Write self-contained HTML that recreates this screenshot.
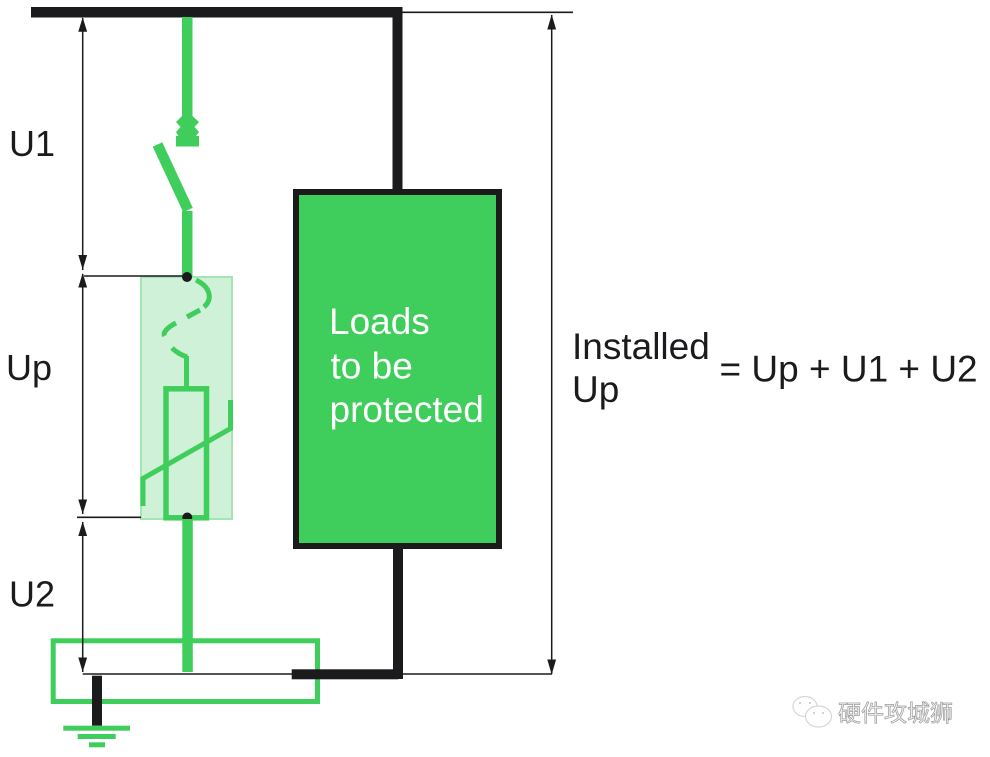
<!DOCTYPE html>
<html><head><meta charset="utf-8">
<style>
html,body{margin:0;padding:0;background:#fff;}
svg{display:block;}
text{font-family:"Liberation Sans",Arial,sans-serif;}
</style></head>
<body>
<svg width="990" height="757" viewBox="0 0 990 757" xmlns="http://www.w3.org/2000/svg">
<rect width="990" height="757" fill="#fff"/>

<!-- top black bus -->
<rect x="31" y="7" width="371" height="10.5" fill="#1b1a1d"/>
<!-- right vertical black line to box -->
<rect x="392.5" y="7" width="10" height="186" fill="#1b1a1d"/>
<!-- thin top reference line -->
<line x1="402" y1="12.3" x2="573" y2="12.3" stroke="#1b1a1d" stroke-width="1.6"/>

<!-- load box -->
<rect x="296" y="192" width="203" height="354" fill="#3fce5b" stroke="#1b1a1d" stroke-width="6"/>
<!-- bottom vertical black -->
<rect x="393" y="546" width="10" height="133" fill="#1b1a1d"/>

<!-- SPD translucent box -->
<rect x="141" y="277" width="91" height="242" fill="#cff1d7" stroke="#a4e5b1" stroke-width="2"/>

<!-- top green wire -->
<rect x="182" y="17" width="10.5" height="99" fill="#3fce5b"/>
<polygon points="182,114 192.5,114 192.5,116 199,122 194.5,127 199,132 196,136 178.5,136 176,132 180.5,127 176,122 182,116" fill="#3fce5b"/>
<rect x="176" y="136" width="23" height="10.5" fill="#3fce5b"/>
<!-- switch blade -->
<line x1="157.5" y1="144.5" x2="188" y2="210" stroke="#3fce5b" stroke-width="10.5"/>
<!-- lower wire to SPD -->
<rect x="182" y="211" width="10.5" height="66" fill="#3fce5b"/>

<!-- spark gap dashed S-curve -->
<path d="M196,280 C212,288 212,300 204,307" fill="none" stroke="#3fce5b" stroke-width="5"/>
<path d="M200,310 L187,317" fill="none" stroke="#3fce5b" stroke-width="5"/>
<path d="M176,323 C166,328 163,333 164.5,336" fill="none" stroke="#3fce5b" stroke-width="5"/>
<path d="M172,348 C177,353 182,355 187,357" fill="none" stroke="#3fce5b" stroke-width="5"/>
<line x1="186.5" y1="356" x2="186.5" y2="389" stroke="#3fce5b" stroke-width="5"/>

<!-- varistor -->
<rect x="166" y="388.8" width="40.5" height="129" fill="none" stroke="#3fce5b" stroke-width="5.5"/>
<polyline points="143,506 143,478.5 230.5,428.5 230.5,400" fill="none" stroke="#3fce5b" stroke-width="5"/>

<!-- nodes -->
<circle cx="187" cy="277" r="5" fill="#1b1a1d"/>
<circle cx="187.3" cy="517.5" r="5" fill="#1b1a1d"/>

<!-- lower green wire -->
<rect x="182.3" y="519" width="10.5" height="153" fill="#3fce5b"/>

<!-- earth bar rect -->
<rect x="53.2" y="640.8" width="264.3" height="60.7" fill="none" stroke="#3fce5b" stroke-width="5"/>

<!-- bottom reference line and black bar -->
<line x1="82.7" y1="674" x2="552" y2="674" stroke="#1b1a1d" stroke-width="1.6"/>
<rect x="291.7" y="669.3" width="106.6" height="10" fill="#1b1a1d"/>

<!-- ground -->
<rect x="92" y="675.7" width="10" height="50" fill="#1b1a1d"/>
<rect x="63.3" y="725.7" width="66.7" height="5" fill="#3fce5b"/>
<rect x="77.7" y="734" width="38" height="5" fill="#3fce5b"/>
<rect x="89" y="742.3" width="16" height="5" fill="#3fce5b"/>

<!-- left dimension lines -->
<line x1="82.7" y1="18" x2="82.7" y2="270" stroke="#1b1a1d" stroke-width="1.5"/>
<polygon points="82.7,17.3 78.3,31.7 87.1,31.7" fill="#1b1a1d"/>
<polygon points="82.7,269.5 78.3,255 87.1,255" fill="#1b1a1d"/>
<line x1="84" y1="276" x2="183" y2="276" stroke="#1b1a1d" stroke-width="1.6"/>

<line x1="82.7" y1="274" x2="82.7" y2="514" stroke="#1b1a1d" stroke-width="1.5"/>
<polygon points="82.7,273 78.3,287.5 87.1,287.5" fill="#1b1a1d"/>
<polygon points="82.7,514 78.3,499.5 87.1,499.5" fill="#1b1a1d"/>
<line x1="77" y1="517.3" x2="141" y2="517.3" stroke="#1b1a1d" stroke-width="1.6"/>

<line x1="82.7" y1="522" x2="82.7" y2="672" stroke="#1b1a1d" stroke-width="1.5"/>
<polygon points="82.7,521.5 78.3,536 87.1,536" fill="#1b1a1d"/>
<polygon points="82.7,672 78.3,657.5 87.1,657.5" fill="#1b1a1d"/>

<!-- right dimension arrow -->
<line x1="551.7" y1="15" x2="551.7" y2="674" stroke="#1b1a1d" stroke-width="1.5"/>
<polygon points="551.7,14.5 547.3,29.5 556.1,29.5" fill="#1b1a1d"/>
<polygon points="551.7,674.5 547.3,659.5 556.1,659.5" fill="#1b1a1d"/>

<!-- labels -->
<g font-size="36" fill="#1b1a1d">
<text x="9" y="156">U1</text>
<text x="6" y="380">Up</text>
<text x="9" y="606.5">U2</text>
</g>
<g font-size="37" fill="#1b1a1d">
<text x="572" y="359">Installed</text>
<text x="572" y="402">Up</text>
<text x="719.5" y="381.5">= Up + U1 + U2</text>
</g>
<g font-size="37" fill="#ffffff">
<text x="329" y="334">Loads</text>
<text x="330.5" y="378.5">to be</text>
<text x="329.5" y="422">protected</text>
</g>

<!-- watermark -->
<g fill="#fff" stroke="#d6d6d6" stroke-width="1.2">
<ellipse cx="805" cy="706.5" rx="12" ry="10"/>
<ellipse cx="818.5" cy="716.5" rx="13" ry="10.5"/>
</g>
<g fill="#c4c4c4">
<circle cx="800" cy="703" r="1"/><circle cx="810" cy="703" r="1"/>
<circle cx="814" cy="713" r="1"/><circle cx="823" cy="713" r="1"/>
</g>
<text x="838" y="721" font-size="23" fill="#f4f4f4" stroke="#9a9a9a" stroke-width="0.7" style="font-family:'Liberation Sans','Noto Sans CJK SC',sans-serif;">硬件攻城狮</text>
</svg>
</body></html>
